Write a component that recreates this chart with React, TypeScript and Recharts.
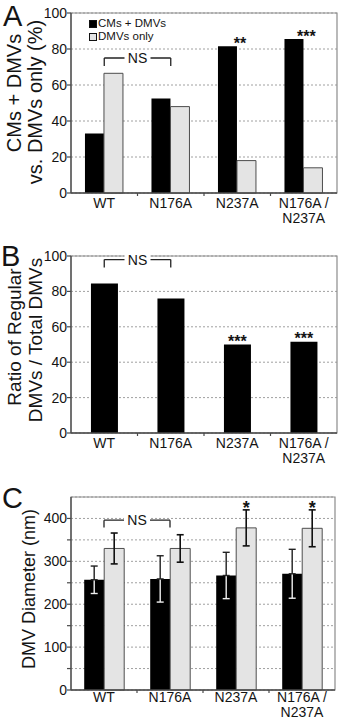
import React from 'react';
import {
  BarChart, Bar, XAxis, YAxis, CartesianGrid, ReferenceArea, ReferenceLine,
  LabelList, ErrorBar, Legend,
} from 'recharts';

const FONT = '"Liberation Sans", Arial, Helvetica, sans-serif';

const categories = ['WT', 'N176A', 'N237A', 'N176A /\nN237A'];

// panel A: % of cells with CMs + DMVs vs DMVs only
const aCmsDmvs = [33, 52.5, 81.5, 85.5];
const aDmvsOnly = [66.5, 48, 18, 14];
const aSig = ['', '', '**', '***'];

// panel B: regular DMVs / total DMVs
const bRegular = [84.5, 76, 50, 51.5];
const bSig = ['', '', '***', '***'];

// panel C: DMV diameter (nm), mean and SD
const cCmsDmvs = [257, 259, 267, 271];
const cCmsDmvsSd = [32, 54, 54, 57];
const cDmvsOnly = [330, 330, 378, 377];
const cDmvsOnlySd = [36, 32, 42, 43];
const cSig = ['', '', '*', '*'];

const pctTicks = [0, 20, 40, 60, 80, 100];
const nmTicks = [0, 50, 100, 150, 200, 250, 300, 350, 400];

const dataA = categories.map((cat, i) => ({ cat, cms: aCmsDmvs[i], dmv: aDmvsOnly[i], sig: aSig[i] }));
const dataB = categories.map((cat, i) => ({ cat, reg: bRegular[i], sig: bSig[i] }));
const dataC = categories.map((cat, i) => ({
  cat, cms: cCmsDmvs[i], cmsSd: cCmsDmvsSd[i], dmv: cDmvsOnly[i], dmvSd: cDmvsOnlySd[i], sig: cSig[i],
}));

const AXIS = '#4a4a4a';
const TEXT = '#141414';
const LIGHT = '#e4e4e4';

const makeTick = (dy: number) => (props: any) => {
  const { x, y, payload, index } = props;
  const w = typeof props.width === 'number' && props.width > 100 ? props.width : 265;
  const band = w / categories.length;
  const lines = String(payload.value).split('\n');
  return (
    <g>
      {index < categories.length - 1 && (
        <line x1={x + band / 2} x2={x + band / 2} y1={y} y2={y + 3} stroke={AXIS} strokeWidth={1.2} />
      )}
      <text x={x} y={y + dy} textAnchor="middle" fontFamily={FONT} fontSize={14} fill={TEXT}>
        {lines.map((l, i) => (
          <tspan key={i} x={x} dy={i === 0 ? 0 : 15}>{l}</tspan>
        ))}
      </text>
    </g>
  );
};

const yTitle = (lines: { text: string; x: number; y: number }[], fs: number) => () => (
  <g>
    {lines.map((l) => (
      <text key={l.text} x={l.x} y={l.y} transform={`rotate(-90 ${l.x} ${l.y})`} textAnchor="middle"
        fontFamily={FONT} fontSize={fs} fill={TEXT}>
        {l.text}
      </text>
    ))}
  </g>
);

const nsLabel = (props: any) => {
  const vb = props.viewBox || {};
  const cx = vb.x + vb.width / 2;
  const cy = vb.y;
  return (
    <g>
      <rect x={cx - 13} y={cy - 6} width={26} height={12} fill="#fff" />
      <text x={cx} y={cy + 5} textAnchor="middle" fontFamily={FONT} fontSize={14} fill={TEXT}>NS</text>
    </g>
  );
};

const getBox = (props: any) => (typeof props.x === 'number' ? props : props.viewBox || props);

const sideStars = (props: any) => {
  const { x, y, width } = getBox(props);
  if (!props.value) return null;
  return (
    <text x={x + width + 3} y={y + 3} textAnchor="middle" fontFamily={FONT} fontSize={16} fontWeight="bold" fill={TEXT}>
      {props.value}
    </text>
  );
};

const topStars = (props: any) => {
  const { x, y, width } = getBox(props);
  if (!props.value) return null;
  return (
    <text x={x + width / 2} y={y + 2} textAnchor="middle" fontFamily={FONT} fontSize={16} fontWeight="bold" fill={TEXT}>
      {props.value}
    </text>
  );
};

const errStars = (props: any) => {
  const { x, y, width, height } = getBox(props);
  const i = props.index;
  if (!props.value || i == null) return null;
  const top = y - cDmvsOnlySd[i] * (height / cDmvsOnly[i]);
  return (
    <text x={x + width / 2} y={top + 4} textAnchor="middle" fontFamily={FONT} fontSize={18} fontWeight="bold" fill={TEXT}>
      {props.value}
    </text>
  );
};

const renderLegend = (props: any) => (
  <div style={{ fontFamily: FONT, fontSize: 11.5, color: TEXT }}>
    {(props.payload || []).map((e: any) => (
      <div key={e.value} style={{ display: 'flex', alignItems: 'center', height: 13, lineHeight: '13px', whiteSpace: 'nowrap' }}>
        <span style={{ width: 6, height: 6, background: e.color, border: '1px solid #111', marginRight: 1 }} />
        {e.value}
      </div>
    ))}
  </div>
);

const bracket = (x1: string, x2: string, y: number, drop: number) => [
  <ReferenceLine key="h" segment={[{ x: x1, y }, { x: x2, y }]} stroke="#222" strokeWidth={1.3}
    ifOverflow="visible" label={{ content: nsLabel }} />,
  <ReferenceLine key="l" segment={[{ x: x1, y }, { x: x1, y: y - drop }]} stroke="#222" strokeWidth={1.3} ifOverflow="visible" />,
  <ReferenceLine key="r" segment={[{ x: x2, y }, { x: x2, y: y - drop }]} stroke="#222" strokeWidth={1.3} ifOverflow="visible" />,
];

const yAxisCommon = {
  width: 71,
  tickSize: 4,
  tickMargin: 0,
  axisLine: { stroke: AXIS, strokeWidth: 1.3 },
  tickLine: { stroke: AXIS, strokeWidth: 1.2 },
  tick: { fontSize: 14, fill: TEXT, fontFamily: FONT },
};

const xAxisCommon = {
  dataKey: 'cat',
  interval: 0 as const,
  tickLine: false,
  tickSize: 0,
  tickMargin: 0,
  axisLine: { stroke: AXIS, strokeWidth: 1.3 },
};

const grid = <CartesianGrid vertical={false} stroke="#a0a0a0" strokeDasharray="2 2" />;

const letter = (ch: string, left: number, top: number) => (
  <div style={{ position: 'absolute', left, top, fontFamily: FONT, fontSize: 29, lineHeight: 'normal', color: TEXT }}>{ch}</div>
);

export default function App() {
  return (
    <div style={{ position: 'absolute', left: 0, top: 0, width: 338, height: 720, background: '#fff', overflow: 'hidden' }}>
      <div style={{ position: 'absolute', left: 0, top: 0 }}>
        <BarChart width={338} height={240} data={dataA} margin={{ top: 13, right: 1, bottom: 0, left: 0 }}
          barCategoryGap="21%" barGap={0}>
          {grid}
          <ReferenceArea y1={0} y2={100} fill="none" stroke="#8c8c8c" strokeWidth={1.2} ifOverflow="visible" />
          <XAxis {...xAxisCommon} height={47} tick={makeTick(15)} />
          <YAxis {...yAxisCommon} domain={[0, 100]} ticks={pctTicks}
            label={{ content: yTitle([{ text: 'CMs + DMVs', x: 21, y: 93 }, { text: 'vs. DMVs only (%)', x: 42, y: 102 }], 20) }} />
          <Legend layout="vertical" align="center" verticalAlign="middle" content={renderLegend}
            wrapperStyle={{ top: 17, left: 89, width: 'auto', height: 'auto' }} />
          {bracket('WT', 'N176A', 75, 4.5)}
          <Bar dataKey="cms" name="CMs + DMVs" fill="#000" isAnimationActive={false}>
            <LabelList dataKey="sig" content={sideStars} />
          </Bar>
          <Bar dataKey="dmv" name="DMVs only" fill={LIGHT} stroke="#4d4d4d" strokeWidth={1} isAnimationActive={false} />
        </BarChart>
      </div>

      <div style={{ position: 'absolute', left: 0, top: 240 }}>
        <BarChart width={338} height={240} data={dataB} margin={{ top: 16, right: 1, bottom: 0, left: 0 }}
          barCategoryGap="30%">
          {grid}
          <ReferenceArea y1={0} y2={100} fill="none" stroke="#8c8c8c" strokeWidth={1.2} ifOverflow="visible" />
          <XAxis {...xAxisCommon} height={47} tick={makeTick(15)} />
          <YAxis {...yAxisCommon} domain={[0, 100]} ticks={pctTicks}
            label={{ content: yTitle([{ text: 'Ratio of Regular', x: 21, y: 97 }, { text: 'DMVs / Total DMVs', x: 42, y: 100 }], 19) }} />
          {bracket('WT', 'N176A', 98, 4.5)}
          <Bar dataKey="reg" fill="#000" isAnimationActive={false}>
            <LabelList dataKey="sig" content={topStars} />
          </Bar>
        </BarChart>
      </div>

      <div style={{ position: 'absolute', left: 0, top: 480 }}>
        <BarChart width={338} height={240} data={dataC} margin={{ top: 17, right: 3, bottom: 0, left: 0 }}
          barCategoryGap="20%" barGap={0}>
          {grid}
          <ReferenceArea y1={0} y2={450} fill="none" stroke="#8c8c8c" strokeWidth={1.2} ifOverflow="visible" />
          <XAxis {...xAxisCommon} height={30} tick={makeTick(12)} />
          <YAxis {...yAxisCommon} domain={[0, 450]} ticks={nmTicks}
            tickFormatter={(v: number) => (v % 100 === 0 ? String(v) : '')}
            label={{ content: yTitle([{ text: 'DMV Diameter (nm)', x: 35, y: 109 }], 18) }} />
          {bracket('WT', 'N176A', 396, 17)}
          <Bar dataKey="cms" fill="#000" isAnimationActive={false}>
            <ErrorBar dataKey="cmsSd" stroke="#f0f0f0" strokeWidth={1.4} width={3.5} />
            <ErrorBar dataKey={(d: any) => [0, d.cmsSd]} stroke="#222" strokeWidth={1.4} width={3.5} />
          </Bar>
          <Bar dataKey="dmv" fill={LIGHT} stroke="#4d4d4d" strokeWidth={1} isAnimationActive={false}>
            <ErrorBar dataKey="dmvSd" stroke="#111" strokeWidth={1.6} width={3.5} />
            <LabelList dataKey="sig" content={errStars} />
          </Bar>
        </BarChart>
      </div>

      {letter('A', 3, 0)}
      {letter('B', 1, 240)}
      {letter('C', 2, 482)}
    </div>
  );
}
